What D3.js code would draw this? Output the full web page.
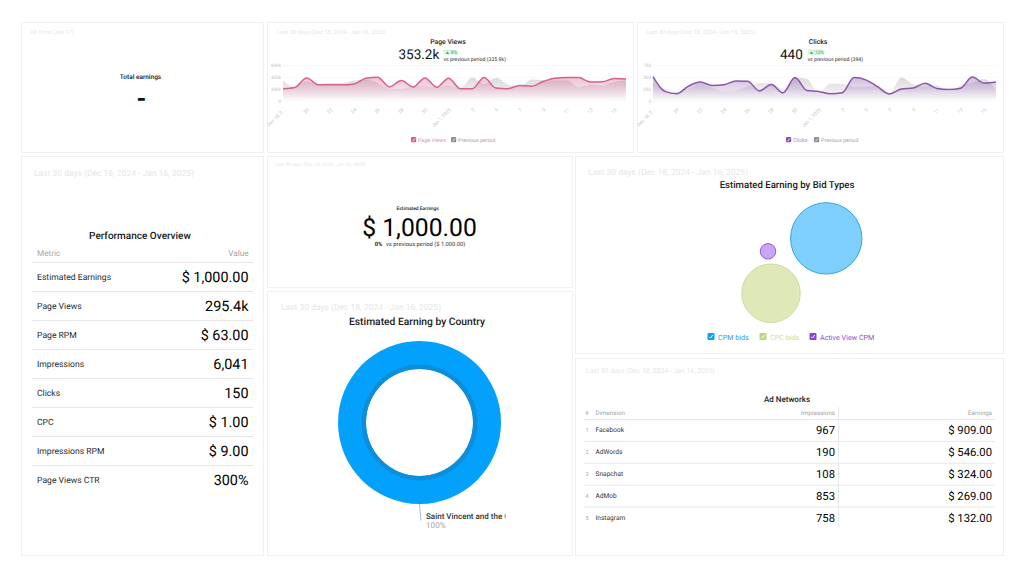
<!DOCTYPE html>
<html><head><meta charset="utf-8">
<script src="https://cdn.jsdelivr.net/npm/d3@7/dist/d3.min.js"></script>
<style>html,body{margin:0;padding:0;background:#fff}svg{display:block;font-family:Roboto,sans-serif;text-rendering:geometricPrecision}</style>
</head><body><svg id="c" width="1024" height="576"></svg>
<script>
const periodLabel = "Last 30 days (Dec 18, 2024 - Jan 16, 2025)";
const days = ["Dec 18, 2024","19","20","21","22","23","24","25","26","27","28","29","30","31","Jan 1, 2025","2","3","4","5","6","7","8","9","10","11","12","13","14","15","16"];
const tickDays = ["Dec 18, 2024","20","22","24","26","28","30","Jan 1, 2025","3","5","7","9","11","13","15"];
const pageViews = [205,225,385,270,270,270,285,380,395,235,340,235,385,230,380,205,205,390,215,205,260,245,325,380,390,390,315,320,375,365];
const pageViewsPrev = [340,230,330,280,300,300,340,360,300,210,200,250,240,230,260,215,390,280,385,280,230,360,350,340,340,230,270,260,320,340];
const clicks = [510,200,150,310,395,325,340,415,410,210,345,170,490,220,200,150,170,490,440,295,145,250,270,370,260,240,265,500,375,395];
const clicksPrev = [380,250,190,260,360,280,200,220,300,370,370,250,490,460,170,360,360,290,300,320,170,490,350,300,330,200,320,380,460,220];
const perfMetrics = ["Estimated Earnings","Page Views","Page RPM","Impressions","Clicks","CPC","Impressions RPM","Page Views CTR"];
const perfValues = ["$ 1,000.00","295.4k","$ 63.00","6,041","150","$ 1.00","$ 9.00","300%"];
const adNames = ["Facebook","AdWords","Snapchat","AdMob","Instagram"];
const adImpressions = ["967","190","108","853","758"];
const adEarnings = ["$ 909.00","$ 546.00","$ 324.00","$ 269.00","$ 132.00"];
const bidNames = ["CPM bids","CPC bids","Active View CPM"];
const bidX = [66.8,35.6,33.9];
const bidY = [66.4,26.6,57];
const bidSize = [640,430,30];
const countryNames = ["Saint Vincent and the Grenadines"];
const countryShare = [100];

const svg = d3.select("#c");
const defs = svg.append("defs");
const ink = "#1a1a1a";
function txt(x,y,s,size,fill,anchor,weight,parent){
  return (parent||svg).append("text").attr("x",x).attr("y",y).text(s).attr("font-size",size)
   .attr("fill",fill||ink).attr("text-anchor",anchor||"start").attr("font-weight",weight||400);
}
const cards = [[21,22,242,130],[267,22,366,130],[637,22,366,130],[21,156,242,399],[267,156,305,131],[267,291,305,264],[575,156,428,197],[575,358,428,197]];
svg.selectAll("rect.card").data(cards).enter().append("rect").attr("class","card")
 .attr("x",d=>d[0]+.5).attr("y",d=>d[1]+.5).attr("width",d=>d[2]).attr("height",d=>d[3])
 .attr("fill","#fff").attr("stroke","#f0f0f0");
const pale="#e6e6e6";
txt(30,34,"All Time (Jan 17)",5.8,pale);
txt(277,34,periodLabel,5.8,pale);
txt(646,34,periodLabel,5.8,pale);
txt(34,175.5,periodLabel,8.5,pale);
txt(275,166,periodLabel,4.8,pale);
txt(281,309.5,periodLabel,8.5,pale);
txt(588,174.5,periodLabel,8.5,pale);
txt(586,373,periodLabel,6.85,pale);

// total earnings
txt(140.5,78.5,"Total earnings",6.5,ink,"middle",500);
txt(141.5,107,"-",25,"#111","middle",700);

function check(x,y,s,color){
  svg.append("rect").attr("x",x).attr("y",y).attr("width",s).attr("height",s).attr("rx",1).attr("fill",color);
  svg.append("path").attr("d",`M${x+s*.27} ${y+s*.55}L${x+s*.43} ${y+s*.72}L${x+s*.75} ${y+s*.28}`)
   .attr("fill","none").attr("stroke","#fff").attr("stroke-width",s*.14);
}
function lineCard(o){
  const x=d3.scalePoint().domain(days).range(o.xr);
  const y=d3.scaleLinear().domain([0,o.max]).range([101,65]);
  const id=o.id;
  const gc=defs.append("linearGradient").attr("id",id+"c").attr("gradientUnits","userSpaceOnUse").attr("x1",0).attr("x2",0).attr("y1",74).attr("y2",101);
  gc.append("stop").attr("offset",0).attr("stop-color",o.color).attr("stop-opacity",.4);
  gc.append("stop").attr("offset",.3).attr("stop-color",o.color).attr("stop-opacity",.32);
  gc.append("stop").attr("offset",1).attr("stop-color",o.color).attr("stop-opacity",0);
  const gp=defs.append("linearGradient").attr("id",id+"p").attr("gradientUnits","userSpaceOnUse").attr("x1",0).attr("x2",0).attr("y1",74).attr("y2",101);
  gp.append("stop").attr("offset",0).attr("stop-color","#cccccc").attr("stop-opacity",.8);
  gp.append("stop").attr("offset",.35).attr("stop-color","#cccccc").attr("stop-opacity",.55);
  gp.append("stop").attr("offset",1).attr("stop-color","#cccccc").attr("stop-opacity",0);
  const g=svg.append("g");
  const ax=g.append("g").attr("transform",`translate(${o.xr[0]},0)`)
    .call(d3.axisLeft(y).tickValues(o.yTicks).tickFormat(o.yFmt).tickSize(0).tickPadding(2));
  ax.select(".domain").remove();
  ax.selectAll("text").attr("font-size",4.6).attr("fill","#bdbdbd").attr("font-family","Roboto");
  g.append("g").selectAll("line").data(o.yTicks).enter().append("line")
   .attr("x1",o.xr[0]).attr("x2",o.xr[1]).attr("y1",d=>y(d)+.5).attr("y2",d=>y(d)+.5).attr("stroke","#f6f6f6").attr("stroke-width",.7);
  const area=d3.area().x((d,i)=>x(days[i])).y0(y(0)+1).y1(d=>y(d)).curve(d3.curveMonotoneX);
  const line=d3.line().x((d,i)=>x(days[i])).y(d=>y(d)).curve(d3.curveMonotoneX);
  g.append("path").datum(o.prev).attr("d",area).attr("fill",`url(#${id}p)`);
  g.append("path").datum(o.cur).attr("d",area).attr("fill",`url(#${id}c)`);
  g.append("path").datum(o.cur).attr("d",line).attr("fill","none").attr("stroke",o.color).attr("stroke-width",1.5);
  const bx=g.append("g").attr("transform","translate(0,108)")
    .call(d3.axisBottom(x).tickValues(tickDays).tickSize(0).tickPadding(0).tickFormat(d=>d==="Dec 18, 2024"?"Dec 18, 2...":d));
  bx.select(".domain").remove();
  bx.selectAll("text").attr("font-size",4.8).attr("fill","#c4c4c4").attr("font-family","Roboto")
    .attr("text-anchor","end").attr("dy",0).attr("y",3).attr("transform","rotate(-45)");
  txt(o.cx,44,o.title,6.8,ink,"middle",500);
  txt(o.vx,59,o.val,13.5,"#111","start",400);
  svg.append("rect").attr("x",o.bx).attr("y",49.5).attr("width",o.bw).attr("height",5.2).attr("rx",1).attr("fill","#d4f5e1");
  txt(o.bx+1.5,53.9,o.delta,4.8,"#3aa566");
  txt(o.bx,60.5,o.vs,5.2,"#333");
  check(o.l1,137,5.2,o.color);
  txt(o.l1+7,141.6,o.title,5.4,o.legColor);
  check(o.l2,137,5.2,"#8e8e8e");
  txt(o.l2+7,141.6,"Previous period",5.4,"#a5a5a5");
}
lineCard({id:"pv",xr:[283,626],max:600,cur:pageViews,prev:pageViewsPrev,color:"#d6608f",legColor:"#e08fb0",yTicks:[0,200,400,600],yFmt:d=>d?d+"k":"0",
 title:"Page Views",cx:448,vx:398.5,val:"353.2k",bx:443.5,bw:14,delta:"▲ 8%",vs:"vs previous period (325.9k)",l1:411,l2:451});
lineCard({id:"cl",xr:[653,996],max:750,cur:clicks,prev:clicksPrev,color:"#8a55ad",legColor:"#a986c2",yTicks:[0,250,500,750],yFmt:d=>String(d),
 title:"Clicks",cx:818,vx:780,val:"440",bx:807.5,bw:17,delta:"▲ 12%",vs:"vs previous period (394)",l1:786,l2:814});

// performance table
txt(140,238.5,"Performance Overview",10,ink,"middle",500);
txt(37,255.5,"Metric",8.2,"#a5a5a5");
txt(248.5,255.5,"Value",8.2,"#a5a5a5","end");
const perfY=d3.scalePoint().domain(perfMetrics).range([277,480]);
perfMetrics.forEach((m,i)=>{
  const yy=perfY(m);
  svg.append("line").attr("x1",32).attr("x2",253).attr("y1",yy-14.5).attr("y2",yy-14.5).attr("stroke","#e6e6e6");
  txt(37,yy+3,m,8.6,"#2a2a2a");
  txt(248.5,yy+5,perfValues[i],14.4,"#000","end");
});

// earnings KPI
txt(417.7,210,"Estimated Earnings",4.9,ink,"middle",500);
txt(419.5,235.5,"$ 1,000.00",24.7,"#000","middle");
txt(374.7,246,"0%",5.8,ink,"start",700);
txt(386,246,"vs previous period ($ 1,000.00)",5.8,"#333");

// country donut
txt(417,324.8,"Estimated Earning by Country",10.3,ink,"middle",500);
const pie=d3.pie().sort(null)(countryShare);
const donut=svg.append("g").attr("transform","translate(419.5,422.5)");
const arcO=d3.arc().innerRadius(53.5).outerRadius(81.5);
const arcI=d3.arc().innerRadius(53.5).outerRadius(58);
donut.selectAll("path.o").data(pie).enter().append("path").attr("d",arcO).attr("fill","#03a0fc");
donut.selectAll("path.i").data(pie).enter().append("path").attr("d",arcI).attr("fill","#0c8fd8");
svg.append("path").attr("d","M419.4 504L421 520.5").attr("stroke","#9db4c6").attr("fill","none").attr("stroke-width",.9);
defs.append("clipPath").attr("id","lab").append("rect").attr("x",420).attr("y",505).attr("width",85.5).attr("height",30);
const lg=svg.append("g").attr("clip-path","url(#lab)");
txt(426,518.5,countryNames[0],8,"#333","start",500,lg);
txt(426,527.5,countryShare[0]+"%",8.2,"#a8a8a8","start",400,lg);

// bubbles
txt(787,188,"Estimated Earning by Bid Types",9.6,ink,"middle",500);
const bxS=d3.scaleLinear().domain([0,100]).range([708,885]);
const byS=d3.scaleLinear().domain([0,100]).range([330,192]);
const rS=d3.scaleSqrt().domain([0,640]).range([0,35.7]);
const bidFill=["#7fcfff","#dfe9b8","#c9a6f5"];
const bidStroke=["#2ba3e6","#cbdca0","#9060d8"];
const bidText=["#2aa0e6","#c9dc9a","#8a4fd0"];
const bidBox=["#0fa0ee","#bcd585","#8a44d8"];
bidNames.forEach((n,i)=>{
  svg.append("circle").attr("cx",bxS(bidX[i])).attr("cy",byS(bidY[i])).attr("r",rS(bidSize[i]))
   .attr("fill",bidFill[i]).attr("stroke",bidStroke[i]).attr("stroke-width",1);
});
const legX=[707.5,759.5,809.5];
bidNames.forEach((n,i)=>{
  check(legX[i],333,7,bidBox[i]);
  txt(legX[i]+10.5,339.5,n,7.2,bidText[i]);
});

// ad networks
txt(787,401.5,"Ad Networks",8,ink,"middle",500);
txt(585,414.5,"#",6,"#a5a5a5");
txt(595.5,414.5,"Dimension",6.2,"#a5a5a5");
txt(835,414.5,"Impressions",6.2,"#a5a5a5","end");
txt(992,414.5,"Earnings",6.2,"#a5a5a5","end");
const adY=d3.scalePoint().domain(adNames).range([430,517.5]);
adNames.forEach((n,i)=>{
  const yy=adY(n);
  svg.append("line").attr("x1",584).attr("x2",995).attr("y1",yy-10.5).attr("y2",yy-10.5).attr("stroke","#e8e8e8");
  txt(585.5,yy+2,String(i+1),5.5,"#a8a8a8");
  txt(595.5,yy+2,n,6.6,"#333");
  txt(835,yy+4,adImpressions[i],11.3,"#000","end");
  txt(992,yy+4,adEarnings[i],11.3,"#000","end");
});
svg.append("line").attr("x1",838.5).attr("x2",838.5).attr("y1",407).attr("y2",527).attr("stroke","#e8e8e8");
</script></body></html>
